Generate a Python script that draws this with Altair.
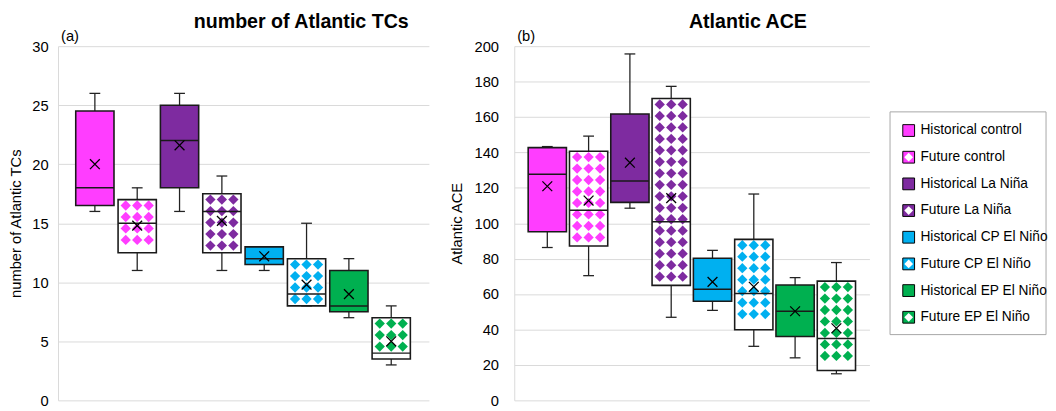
import altair as alt
import pandas as pd

categories = ["Historical control", "Future control", "Historical La Niña", "Future La Niña",
              "Historical CP El Niño", "Future CP El Niño", "Historical EP El Niño", "Future EP El Niño"]
colors = ["#FF3DFF", "#FF3DFF", "#7E2BA0", "#7E2BA0", "#00B0F0", "#00B0F0", "#00B050", "#00B050"]
is_future = [False, True, False, True, False, True, False, True]

# (a) number of Atlantic TCs
tc_min = [16, 11, 16, 11, 11, 8, 7, 3]
tc_q1 = [16.5, 12.5, 18, 12.5, 11.5, 8, 7.5, 3.5]
tc_med = [18, 15, 22, 16, 12, 9, 8, 4]
tc_q3 = [24.5, 17, 25, 17.5, 13, 12, 11, 7]
tc_max = [26, 18, 26, 19, 13, 15, 12, 8]
tc_mean = [20, 14.8, 21.6, 15.2, 12.2, 9.8, 9, 5]

# (b) Atlantic ACE
ace_min = [86.3, 70.4, 108.5, 46.9, 50.8, 30.5, 24, 15]
ace_q1 = [95.2, 87.2, 111.8, 64.9, 56, 39.9, 36, 16.8]
ace_med = [127.7, 107.4, 123.8, 100.9, 62.7, 60.3, 50.3, 34.9]
ace_q3 = [142.7, 140.7, 161.7, 170.4, 80.2, 90.9, 65.1, 67.3]
ace_max = [143.3, 149.2, 195.6, 177.3, 84.7, 116.5, 69.3, 77.8]
ace_mean = [120.9, 112.8, 134.2, 114.2, 66.9, 64.1, 50.3, 40.7]

FONT = "Liberation Sans"


def make_df(mins, q1s, meds, q3s, maxs, means):
    return pd.DataFrame({
        "cat": categories, "idx": list(range(len(categories))), "color": colors,
        "future": is_future, "lo": mins, "q1": q1s, "med": meds, "q3": q3s,
        "hi": maxs, "mean": means,
    })


def diamond_grid(df, px_x, px_y):
    # decorative checker pattern of diamonds inside the "Future" boxes
    rows = []
    dx = 11.7 / px_x
    dy = 11.7 / px_y
    hy = 5.2 / px_y
    for r in df.itertuples():
        if not r.future:
            continue
        y = r.q3 - 6.0 / px_y
        while y - hy >= r.q1 - 0.5 / px_y:
            for k in (-1, 0, 1):
                rows.append({"x": r.idx + k * dx, "y": y, "color": r.color})
            y -= dy
    return pd.DataFrame(rows)


def panel(df, width, height, xdom, ymax, ystep, ytitle, title, title_dx, tag,
          label_pad, title_pad):
    px_x = width / (xdom[1] - xdom[0])
    px_y = height / ymax
    hw = 19.5 / px_x
    cw = 5.5 / px_x
    xs = alt.Scale(domain=xdom, nice=False, zero=False)
    ys = alt.Scale(domain=[0, ymax], nice=False, zero=True)
    yaxis = alt.Axis(values=list(range(0, ymax + 1, ystep)), grid=True, gridColor="#d9d9d9",
                     domainColor="#d9d9d9", ticks=False, labelFontSize=15, labelColor="black",
                     labelPadding=label_pad, titleFontSize=15, titleFontWeight="normal",
                     titleColor="black", titlePadding=title_pad, labelFont=FONT, titleFont=FONT)

    def X(f):
        return alt.X(f, scale=xs, axis=None)

    def Y(f):
        return alt.Y(f, scale=ys, axis=yaxis, title=ytitle)

    base = alt.Chart(df).transform_calculate(
        bl=f"datum.idx - {hw}", br=f"datum.idx + {hw}",
        cl=f"datum.idx - {cw}", cr=f"datum.idx + {cw}",
        fillc="datum.future ? 'white' : datum.color",
    )
    whisker = base.mark_rule(color="#222", strokeWidth=1.3).encode(x=X("idx:Q"), y=Y("lo:Q"), y2="hi:Q")
    cap_top = base.mark_rule(color="#222", strokeWidth=1.3).encode(x=X("cl:Q"), x2="cr:Q", y=Y("hi:Q"))
    cap_bot = base.mark_rule(color="#222", strokeWidth=1.3).encode(x=X("cl:Q"), x2="cr:Q", y=Y("lo:Q"))
    box = base.mark_rect(strokeWidth=0).encode(x=X("bl:Q"), x2="br:Q", y=Y("q1:Q"), y2="q3:Q",
                                               fill=alt.Fill("fillc:N", scale=None))
    grid = diamond_grid(df, px_x, px_y)
    diamonds = alt.Chart(grid).mark_point(shape="diamond", filled=True, size=110, opacity=1,
                                          strokeWidth=0).encode(
        x=X("x:Q"), y=Y("y:Q"), fill=alt.Fill("color:N", scale=None))
    outline = base.mark_rect(fillOpacity=0, stroke="#1a1a1a", strokeWidth=1.6).encode(
        x=X("bl:Q"), x2="br:Q", y=Y("q1:Q"), y2="q3:Q")
    median = base.mark_rule(color="#1a1a1a", strokeWidth=1.5).encode(x=X("bl:Q"), x2="br:Q", y=Y("med:Q"))
    mean = base.mark_point(shape="M-1,-1L1,1M1,-1L-1,1", size=100, filled=False, color="black",
                           strokeWidth=1.3, opacity=1).encode(x=X("idx:Q"), y=Y("mean:Q"))
    tag_layer = alt.Chart(pd.DataFrame({"t": [tag]})).mark_text(
        align="left", baseline="middle", fontSize=15, font=FONT, color="black").encode(
        text="t:N", x=alt.value(3), y=alt.value(-10))
    return alt.layer(whisker, cap_top, cap_bot, box, diamonds, outline, median, mean, tag_layer).properties(
        width=width, height=height,
        title=alt.TitleParams(title, anchor="start", dx=title_dx, fontSize=20, fontWeight="bold",
                              font=FONT, color="black", offset=-2),
    )


df_a = make_df(tc_min, tc_q1, tc_med, tc_q3, tc_max, tc_mean)
df_b = make_df(ace_min, ace_q1, ace_med, ace_q3, ace_max, ace_mean)

pa = panel(df_a, 378, 361, [-0.87, 7.89], 30, 5, "number of Atlantic TCs",
           "number of Atlantic TCs", 189, "(a)", 10, 9)
pb = panel(df_b, 362, 361, [-0.80, 7.80], 200, 20, "Atlantic ACE",
           "Atlantic ACE", 244, "(b)", 16, 10)

# legend panel
leg_df = pd.DataFrame({"cat": categories, "idx": list(range(len(categories))), "color": colors,
                       "future": is_future})
lys = alt.Scale(domain=[-3.163, 7.650], reverse=True, nice=False, zero=False)
leg_base = alt.Chart(leg_df)
frame = alt.Chart(pd.DataFrame({"a": [0]})).mark_rect(fillOpacity=0, stroke="#a6a6a6", strokeWidth=1).encode(
    x=alt.value(0), x2=alt.value(159), y=alt.value(67), y2=alt.value(294))
swatch = leg_base.mark_point(shape="square", size=144, filled=True, opacity=1, stroke="black",
                             strokeWidth=1).encode(
    x=alt.value(19), y=alt.Y("idx:Q", scale=lys, axis=None), fill=alt.Fill("color:N", scale=None))
inner = leg_base.transform_filter("datum.future").mark_point(
    shape="diamond", size=80, filled=True, opacity=1, color="white", strokeWidth=0).encode(
    x=alt.value(19), y=alt.Y("idx:Q", scale=lys, axis=None))
labels = leg_base.mark_text(align="left", baseline="middle", fontSize=14, font=FONT, color="black").encode(
    x=alt.value(31), y=alt.Y("idx:Q", scale=lys, axis=None), text="cat:N")
legend = alt.layer(frame, swatch, inner, labels).properties(width=159, height=294)

chart = alt.hconcat(pa, pb, legend, spacing=20).properties(
    padding={"left": 0, "top": 0, "right": 0, "bottom": 0}, background="white"
).configure(font=FONT).configure_view(strokeWidth=0)

chart.save("out.html", embed_options={"renderer": "svg", "actions": False})
